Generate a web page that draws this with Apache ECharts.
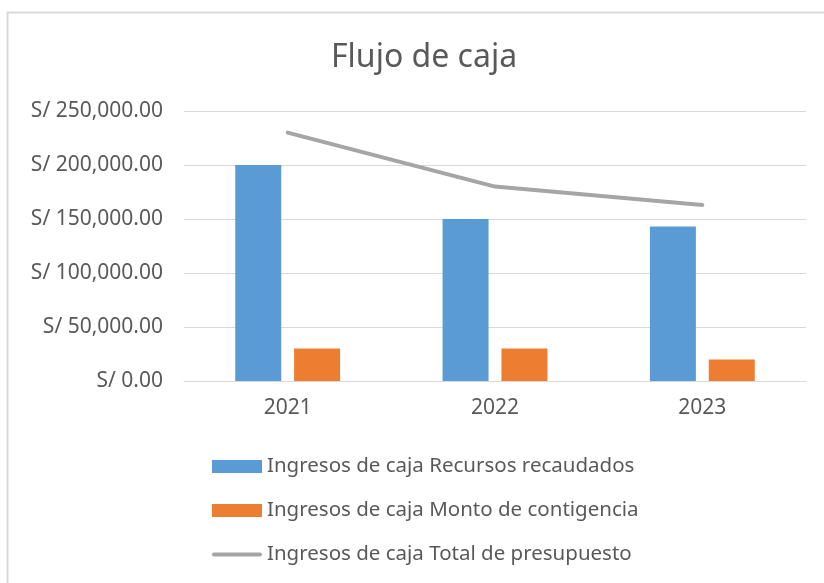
<!DOCTYPE html>
<html>
<head>
<meta charset="utf-8">
<script src="https://cdn.jsdelivr.net/npm/echarts@6/dist/echarts.min.js"></script>
<style>
  html, body { margin: 0; padding: 0; background: #fff; }
  #flujoCaja { width: 824px; height: 583px; }
</style>
</head>
<body>
<div id="flujoCaja"></div>
<script>
const years = ['2021', '2022', '2023'];
const recursosRecaudados = [200000, 150000, 143000];
const montoContigencia = [30000, 30000, 20000];
const totalPresupuesto = [230000, 180000, 163000];
const seriesNames = [
  'Ingresos de caja Recursos recaudados',
  'Ingresos de caja Monto de contigencia',
  'Ingresos de caja Total de presupuesto'
];

var font = 'Noto Sans';
var textColor = '#595959';
var myChart = echarts.init(document.getElementById('flujoCaja'));

function soles(v){
  return 'S/ ' + v.toLocaleString('en-US', {minimumFractionDigits: 2, maximumFractionDigits: 2});
}

myChart.setOption({
  animation: false,
  textStyle: { fontFamily: font },
  graphic: [{
    type: 'rect',
    shape: { x: 7.5, y: 12.5, width: 830, height: 600 },
    style: { fill: 'none', stroke: '#D9D9D9', lineWidth: 2 }
  }],
  title: {
    text: 'Flujo de caja',
    left: 326,
    top: 37,
    textStyle: { fontSize: 32, fontWeight: 'normal', color: textColor, fontFamily: font }
  },
  legend: {
    orient: 'vertical',
    left: 212,
    top: 456,
    padding: 0,
    itemWidth: 50,
    itemHeight: 13,
    itemGap: 23,
    textStyle: { fontSize: 20.5, color: textColor, fontFamily: font },
    data: [
      { name: seriesNames[0], icon: 'rect' },
      { name: seriesNames[1], icon: 'rect' },
      { name: seriesNames[2], icon: 'path://M2,0 L48,0 A2,2 0 0 1 48,4 L2,4 A2,2 0 0 1 2,0 Z' }
    ]
  },
  grid: { left: 184, right: 18, top: 111, bottom: 202 },
  xAxis: {
    type: 'category',
    data: years,
    axisLine: { lineStyle: { color: '#D9D9D9', width: 1 } },
    axisTick: { show: false },
    axisLabel: { fontSize: 21, color: textColor, margin: 17 }
  },
  yAxis: {
    type: 'value',
    min: 0,
    max: 250000,
    interval: 50000,
    axisLine: { show: false },
    axisTick: { show: false },
    splitLine: { lineStyle: { color: '#D9D9D9', width: 1 } },
    axisLabel: { fontSize: 21, color: textColor, margin: 21, formatter: soles }
  },
  series: [
    {
      name: seriesNames[0],
      type: 'bar',
      data: recursosRecaudados,
      barWidth: 46,
      barGap: '28%',
      itemStyle: { color: '#5B9BD5' }
    },
    {
      name: seriesNames[1],
      type: 'bar',
      data: montoContigencia,
      barWidth: 46,
      itemStyle: { color: '#ED7D31' }
    },
    {
      name: seriesNames[2],
      type: 'line',
      data: totalPresupuesto,
      symbol: 'none',
      lineStyle: { color: '#A5A5A5', width: 4, cap: 'round' },
      itemStyle: { color: '#A5A5A5' }
    }
  ]
});
</script>
</body>
</html>
